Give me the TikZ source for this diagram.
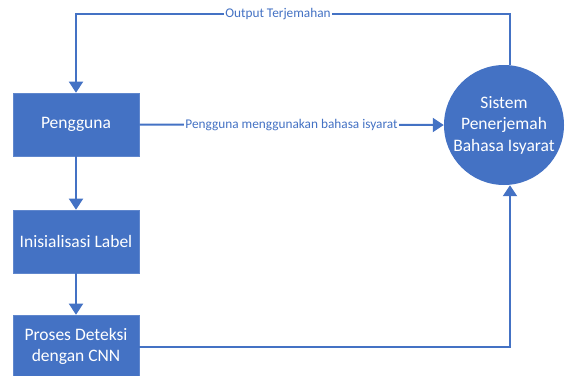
\documentclass[tikz,border=0pt]{standalone}
\usepackage{fontspec}
\setmainfont{Carlito}
\usetikzlibrary{arrows.meta,positioning}
\definecolor{vblue}{HTML}{4472C4}
\tikzset{
  procbox/.style={rectangle, fill=vblue, draw=vblue!85!white, line width=0.6pt, minimum width=126pt, minimum height=63pt, inner sep=0pt, text=white, font=\fontsize{17.5pt}{21.5pt}\selectfont, align=center},
  sysnode/.style={circle, fill=vblue, minimum size=120pt, inner sep=0pt, text=white, font=\fontsize{17.5pt}{21.5pt}\selectfont, align=center},
  flow/.style={draw=vblue, line width=2pt, -{Triangle[width=14pt,length=11pt]}},
  flowlabel/.style={fill=white, text=vblue, inner sep=1pt, font=\fontsize{13.3pt}{15pt}\selectfont}
}
\begin{document}
\begin{tikzpicture}[x=1pt,y=-1pt]
\useasboundingbox (0,0) rectangle (565,375);
\node[procbox] (peng) at (76,124.5) {Pengguna};
\node[procbox] (init) at (76,241.5) {Inisialisasi Label};
\node[procbox] (proses) at (76,346.5) {Proses Deteksi\\dengan CNN};
\node[sysnode] (sys) at (504,125) {Sistem\\Penerjemah\\Bahasa Isyarat};
\coordinate (tr) at (510,14);
\draw[flow] (peng) -- (init);
\draw[flow] (init) -- (proses);
\draw[flow] (peng.east) -- node[flowlabel] {Pengguna menggunakan bahasa isyarat} (sys.west);
\draw[flow] (sys.north -| tr) -- (tr) -| (peng.north);
\node[flowlabel] (outlbl) at (278,14) {Output Terjemahan};
\draw[flow] (proses.east) -| (sys.south -| tr);
\end{tikzpicture}
\end{document}
